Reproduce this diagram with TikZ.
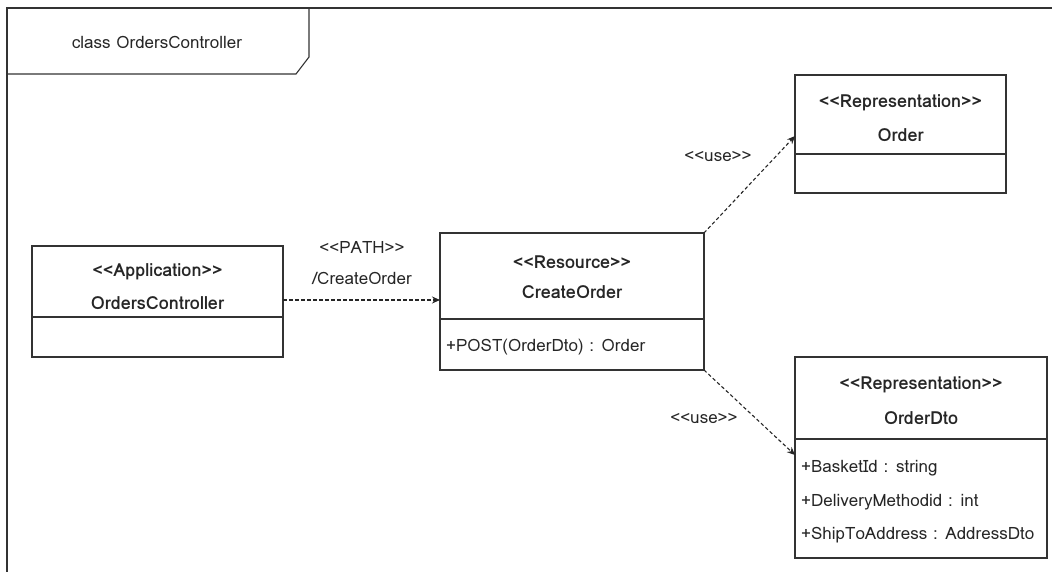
\documentclass[tikz,border=0pt]{standalone}
\usepackage{fontspec}
\setmainfont[Script=Thai]{Loma}
\usetikzlibrary{arrows.meta}
% stereotype brackets kept as plain angle characters
\newcommand\stereo[1]{<\kern0pt<#1>\kern0pt>}
\begin{document}
\begin{tikzpicture}[x=1pt,y=-1pt,
  line/.style={draw=black!80,line width=1.1pt},
  box/.style={line},
  txt/.style={font=\fontsize{17}{20}\selectfont,inner sep=0pt,text=black!85},
  hd/.style={txt,font=\fontsize{18}{21}\selectfont\bfseries},
  dep/.style={draw=black!85,line width=1.1pt,dash pattern=on 3.5pt off 2.5pt,-{Stealth[length=8pt,width=7pt]}}]
\useasboundingbox (0,0) rectangle (1052,572);
% outer frame and its name tab
\draw[line] (7,572) -- (7,8) -- (1052,8);
\draw[line] (7,74) -- (296,74) -- (309,57) -- (309,8);
\node[txt] (frame) at (157,42) {class OrdersController};
% OrdersController
\draw[box] (32,246) rectangle (283,357);
\draw[line] (32,317) -- (283,317);
\node[hd] (appst) at (157.5,272) {\stereo{Application}};
\node[hd] (appn) at (157.5,303) {OrdersController};
\coordinate (app) at (283,300);
% CreateOrder
\draw[box] (440,233) rectangle (704,370);
\draw[line] (440,319) -- (704,319);
\node[hd] (resst) at (572,262) {\stereo{Resource}};
\node[hd] (resn) at (572,292) {CreateOrder};
\node[txt,anchor=west] (post) at (446,347) {+POST(OrderDto) : Order};
\coordinate (resL) at (440,300);
\coordinate (resTR) at (704,233);
\coordinate (resBR) at (704,370);
% Order
\draw[box] (795,75) rectangle (1006,193);
\draw[line] (795,154) -- (1006,154);
\node[hd] (ordst) at (900.5,103) {\stereo{Representation}};
\node[hd] (ordn) at (900.5,135) {Order};
\coordinate (ordL) at (795,136);
% OrderDto
\draw[box] (795,357) rectangle (1047,558);
\draw[line] (795,439) -- (1047,439);
\node[hd] (dtost) at (921,385) {\stereo{Representation}};
\node[hd] (dton) at (921,418) {OrderDto};
\node[txt,anchor=west] (a1) at (801,468) {+BasketId : string};
\node[txt,anchor=west] (a2) at (801,502) {+DeliveryMethodid : int};
\node[txt,anchor=west] (a3) at (801,535) {+ShipToAddress : AddressDto};
\coordinate (dtoL) at (795,455);
% dependencies
\draw[dep] (app) -- (resL);
\node[txt] (pathst) at (362,247) {\stereo{PATH}};
\node[txt] (pathn) at (362,278) {/CreateOrder};
\draw[dep] (resTR) -- (ordL);
\node[txt] (use1) at (718,156) {\stereo{use}};
\draw[dep] (resBR) -- (dtoL);
\node[txt] (use2) at (704,418) {\stereo{use}};
\end{tikzpicture}
\end{document}
